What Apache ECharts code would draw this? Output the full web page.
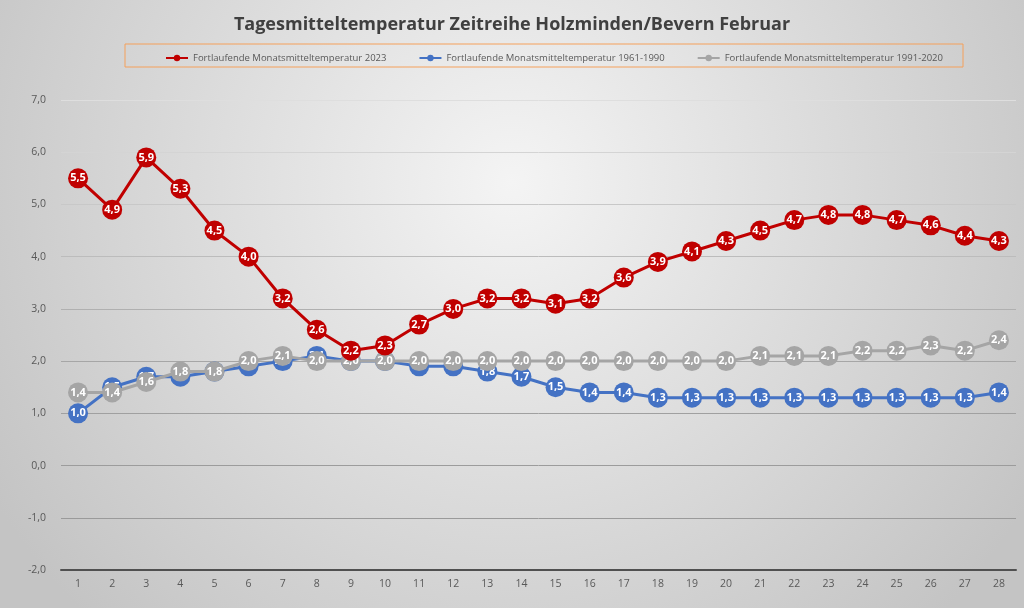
<!DOCTYPE html>
<html>
<head>
<meta charset="utf-8">
<script src="https://cdn.jsdelivr.net/npm/echarts@6/dist/echarts.min.js"></script>
<style>
  html, body { margin: 0; padding: 0; }
  #main { width: 1024px; height: 608px; }
</style>
</head>
<body>
<div id="main"></div>
<script type="text/javascript">
    // Tage im Februar
    var days = [];
    for (var d = 1; d <= 28; d++) { days.push(String(d)); }

    var temp2023 = [5.5, 4.9, 5.9, 5.3, 4.5, 4.0, 3.2, 2.6, 2.2, 2.3, 2.7, 3.0, 3.2, 3.2,
                    3.1, 3.2, 3.6, 3.9, 4.1, 4.3, 4.5, 4.7, 4.8, 4.8, 4.7, 4.6, 4.4, 4.3];
    var temp6190 = [1.0, 1.5, 1.7, 1.7, 1.8, 1.9, 2.0, 2.1, 2.0, 2.0, 1.9, 1.9, 1.8, 1.7,
                    1.5, 1.4, 1.4, 1.3, 1.3, 1.3, 1.3, 1.3, 1.3, 1.3, 1.3, 1.3, 1.3, 1.4];
    var temp9120 = [1.4, 1.4, 1.6, 1.8, 1.8, 2.0, 2.1, 2.0, 2.0, 2.0, 2.0, 2.0, 2.0, 2.0,
                    2.0, 2.0, 2.0, 2.0, 2.0, 2.0, 2.1, 2.1, 2.1, 2.2, 2.2, 2.3, 2.2, 2.4];

    var seriesNames = ['Fortlaufende Monatsmitteltemperatur 2023',
                       'Fortlaufende Monatsmitteltemperatur 1961-1990',
                       'Fortlaufende Monatsmitteltemperatur 1991-2020'];

    var fontName = '"Open Sans", "Noto Sans", sans-serif';

    function komma(v) {
        return Number(v).toFixed(1).replace('.', ',');
    }

    function makeSeries(name, data, color, z) {
        return {
            name: name,
            type: 'line',
            data: data,
            z: z,
            symbol: 'circle',
            symbolSize: 20,
            lineStyle: { color: color, width: 3 },
            itemStyle: { color: color },
            label: {
                show: true,
                position: 'inside',
                color: '#fff',
                fontFamily: fontName,
                fontSize: 11,
                fontWeight: 'bold',
                formatter: function (p) { return komma(p.value); }
            }
        };
    }

    var myChart = echarts.init(document.getElementById('main'));

    var option = {
        animation: false,
        backgroundColor: {
            type: 'radial', x: 0.5, y: 0.3, r: 1.0,
            colorStops: [
                { offset: 0, color: '#f4f4f4' },
                { offset: 1, color: '#c4c4c4' }
            ]
        },
        title: {
            text: 'Tagesmitteltemperatur Zeitreihe Holzminden/Bevern Februar',
            left: 'center',
            top: 11,
            textStyle: { fontFamily: fontName, fontSize: 18, fontWeight: 'bold', color: '#404040' }
        },
        graphic: [{
            type: 'rect',
            shape: { x: 125, y: 44, width: 838, height: 23 },
            style: { fill: 'rgba(0,0,0,0)', stroke: '#f5a05a', lineWidth: 1 },
            silent: true
        }],
        legend: {
            left: 160,
            top: 48,
            itemGap: 32,
            itemWidth: 22,
            itemHeight: 8,
            data: seriesNames,
            textStyle: { fontFamily: fontName, fontSize: 9.5, color: '#595959' }
        },
        grid: { left: 61, right: 8, top: 100, bottom: 38 },
        xAxis: {
            type: 'category',
            data: days,
            boundaryGap: true,
            axisLine: { onZero: false, lineStyle: { color: '#505050', width: 2 } },
            axisTick: { show: false },
            axisLabel: { color: '#595959', fontFamily: fontName, fontSize: 10.5, margin: 9 }
        },
        yAxis: {
            type: 'value',
            min: -2,
            max: 7,
            interval: 1,
            axisLine: { show: false },
            axisTick: { show: false },
            axisLabel: {
                color: '#595959', fontFamily: fontName, fontSize: 10.5, margin: 15,
                formatter: komma
            },
            splitLine: {
                lineStyle: {
                    width: 1,
                    color: ['#505050', '#9a9a9a', '#9c9c9c', '#a0a0a0', '#a6a6a6',
                            '#b0b0b0', '#bcbcbc', '#c8c8c8', '#d4d4d4', '#dedede']
                }
            }
        },
        series: [
            makeSeries(seriesNames[0], temp2023, '#c00000', 4),
            makeSeries(seriesNames[1], temp6190, '#4472c4', 2),
            makeSeries(seriesNames[2], temp9120, '#a5a5a5', 3)
        ]
    };

    myChart.setOption(option);
</script>
</body>
</html>
